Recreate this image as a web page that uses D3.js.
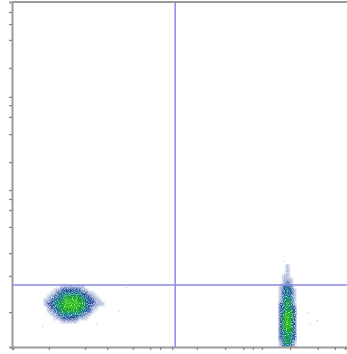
<!DOCTYPE html>
<html><head><meta charset="utf-8">
<script src="https://cdn.jsdelivr.net/npm/d3@7/dist/d3.min.js"></script>
<style>html,body{margin:0;padding:0;background:#fff;}svg{display:block;}</style>
</head><body>
<script>
// Axis tick positions (channel units, 0-1000)
const xTicks = [3,110,218,284,361,412,442,478,552,636,690,719,746,830,913,964,994];
const yTicks = [101,206,272,348,397,429,455,536,617,667,701,725,809,890,936,971];
// Gate positions (channel units)
const gateX = 487;
const gateY = 180;
// Population 1 density grid (levels 0-5), rows from high Y to low Y
const pop1X0 = 95, pop1Y1 = 180, pop1Cell = 10;
const pop1 = [
 [0,0,0,0,0,1,1,1,1,1,1,1,0,0,0,0,0,0],
 [0,0,0,1,1,2,2,2,2,2,2,1,1,0,0,0,0,0],
 [0,0,1,1,2,3,3,3,3,3,3,2,2,1,1,0,0,0],
 [0,1,1,2,3,3,4,4,4,4,4,3,2,2,1,1,0,0],
 [1,1,2,3,3,4,5,5,5,5,4,4,3,2,2,1,1,0],
 [1,2,2,3,4,4,5,5,5,5,5,4,3,2,2,1,1,1],
 [0,1,2,3,3,4,5,5,5,5,4,4,3,2,1,1,0,0],
 [0,1,1,2,3,4,4,4,4,4,4,3,2,2,1,0,0,0],
 [0,0,1,1,2,3,3,3,3,3,3,2,1,1,0,0,0,0],
 [0,0,0,1,1,2,2,2,2,2,1,1,1,0,0,0,0,0],
 [0,0,0,0,0,1,1,1,1,1,0,0,0,0,0,0,0,0]
];
// Population 2 density grid
const pop2X0 = 797, pop2Y1 = 240, pop2Cell = 10;
const pop2 = [
 [0,0,1,0,0],[0,0,1,0,0],[0,0,1,0,0],[0,1,1,0,0],[0,1,1,1,0],[0,1,2,1,0],
 [1,2,3,2,0],[1,2,3,2,1],[1,2,3,2,1],[1,3,3,3,1],[1,3,4,3,1],
 [2,3,4,3,1],[2,3,4,3,2],[2,3,4,4,2],[2,4,5,4,2],[2,4,5,4,2],
 [2,4,5,4,2],[2,4,5,4,2],[2,4,5,4,2],[2,3,4,4,2],[2,3,4,3,2],
 [2,3,4,3,2],[1,3,4,3,1],[1,2,3,2,1]
];
// Scattered single events [x, y]
const outliers = [[318,106],[340,174],[890,68],[910,78],[880,100],[90,60],[250,70],[820,240],[812,250]];

const W = 347, H = 354;
const svg = d3.select("body").append("svg").attr("width", W).attr("height", H);
const x = d3.scaleLinear().domain([0,1000]).range([12,347]);
const y = d3.scaleLinear().domain([0,1000]).range([347,2]);
const levelColor = d3.scaleOrdinal().domain([1,2,3,4,5])
  .range(["#5a7ee0","#3a64d0","#2aa6bc","#26cc4a","#48f430"]);
const levelOpacity = {1:0.35,2:0.8,3:0.95,4:1,5:1};

const defs = svg.append("defs");
const f = defs.append("filter").attr("id","speck").attr("x",0).attr("y",0).attr("width",1).attr("height",1);
f.append("feGaussianBlur").attr("in","SourceGraphic").attr("stdDeviation",1.1).attr("result","b");
f.append("feTurbulence").attr("type","fractalNoise").attr("baseFrequency",0.9).attr("numOctaves",1).attr("seed",3).attr("result","n");
f.append("feColorMatrix").attr("in","n").attr("type","matrix")
 .attr("values","0 0 0 0 0  0 0 0 0 0  0 0 0 0 0  0 0 0 3.2 -0.9").attr("result","na");
f.append("feComposite").attr("in","b").attr("in2","na").attr("operator","arithmetic")
 .attr("k1",0.7).attr("k2",0.55).attr("k3",0).attr("k4",0);

function drawGrid(grid, x0, y1, cell){
  const cells = [];
  grid.forEach((row,i)=>row.forEach((v,j)=>{ if(v>0) cells.push({v, cx:x0+j*cell, cy:y1-(i+1)*cell}); }));
  const g = svg.append("g").attr("filter","url(#speck)");
  [1,2,3,4,5].forEach(lv=>{
    g.selectAll(null).data(cells.filter(c=>c.v===lv)).enter().append("rect")
     .attr("x",d=>x(d.cx)).attr("y",d=>y(d.cy+cell))
     .attr("width",x(cell)-x(0)+0.3).attr("height",y(0)-y(cell)+0.3)
     .attr("fill",levelColor(lv)).attr("fill-opacity",levelOpacity[lv]);
  });
}
drawGrid(pop1, pop1X0, pop1Y1, pop1Cell);
drawGrid(pop2, pop2X0, pop2Y1, pop2Cell);
svg.append("g").selectAll("rect").data(outliers).enter().append("rect")
  .attr("x",d=>x(d[0])).attr("y",d=>y(d[1])).attr("width",1).attr("height",1)
  .attr("fill","#6f8fd8").attr("opacity",0.6);

// Axes
const axisCol = "#9a9a9a";
const xAxis = svg.append("g").attr("transform","translate(0,347)")
  .call(d3.axisBottom(x).tickValues(xTicks).tickSize(3).tickFormat(""));
const yAxis = svg.append("g").attr("transform","translate(12,0)")
  .call(d3.axisLeft(y).tickValues(yTicks).tickSize(3).tickFormat(""));
[xAxis,yAxis].forEach(a=>{
  a.select(".domain").attr("stroke",axisCol).attr("stroke-width",2);
  a.selectAll(".tick line").attr("stroke","#888").attr("stroke-width",1.3);
});
svg.append("line").attr("x1",x(0)).attr("x2",x(1000)).attr("y1",y(1000)).attr("y2",y(1000))
  .attr("stroke",axisCol).attr("stroke-width",2);

// Gates
const gateCol = "#8a8ae6";
svg.append("line").attr("x1",x(gateX)).attr("x2",x(gateX)).attr("y1",y(1000)).attr("y2",y(0))
  .attr("stroke",gateCol).attr("stroke-width",1.5);
svg.append("line").attr("x1",x(0)).attr("x2",x(1000)).attr("y1",y(gateY)).attr("y2",y(gateY))
  .attr("stroke",gateCol).attr("stroke-width",1.5);
</script>
</body></html>
